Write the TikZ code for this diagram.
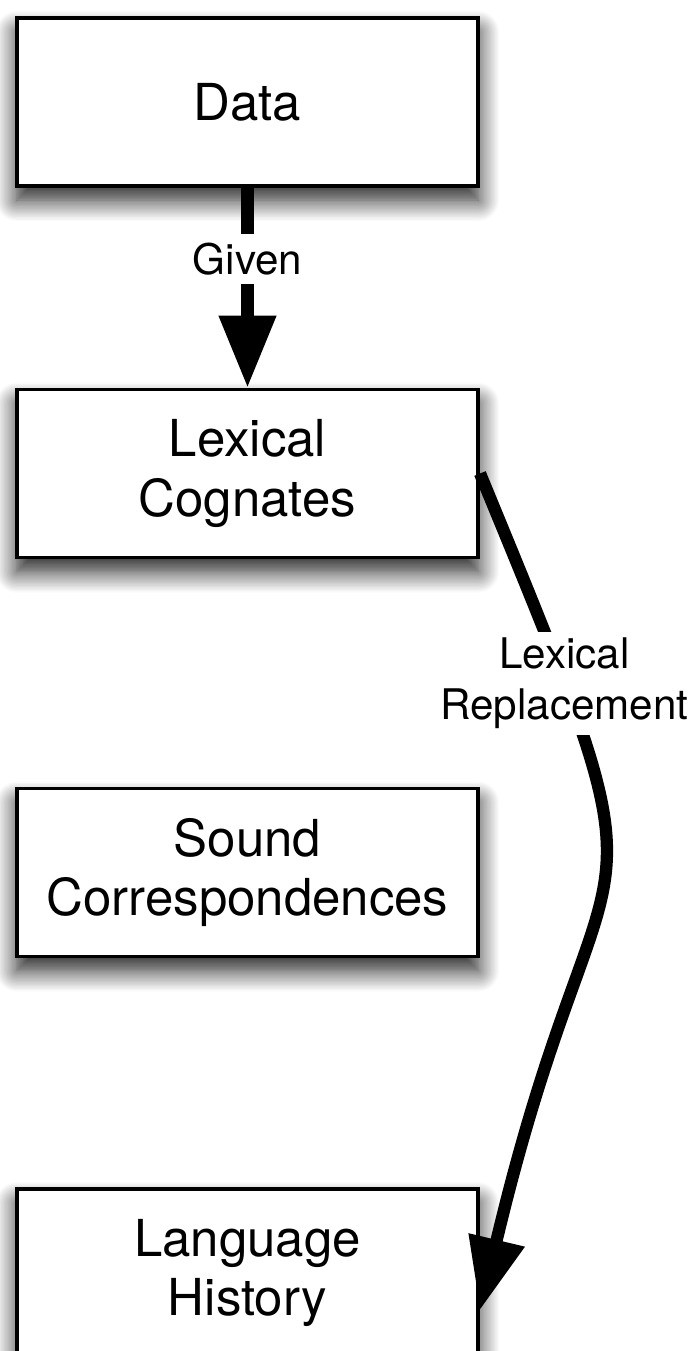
\documentclass[tikz,border=0pt]{standalone}
\usepackage{fontspec}
\setmainfont{TeX Gyre Heros}
\usetikzlibrary{arrows.meta,shadows.blur}

\tikzset{
	box/.style={draw, line width=2pt, fill=white, minimum width=9.23cm, minimum height=3.36cm,
		align=center, font=\fontsize{29}{34}\selectfont,
		blur shadow={shadow xshift=0pt, shadow yshift=-8pt, shadow blur radius=12pt,
			shadow blur steps=16, shadow opacity=90}},
	flow/.style={line width=7pt, -{Triangle[width=31pt,length=41pt]}},
	lbl/.style={fill=white, align=center, font=\fontsize{24}{29}\selectfont}
}

\begin{document}
\begin{tikzpicture}
		\useasboundingbox (0,0) rectangle (13.9,-27.02);
		% stages, top to bottom
		\node (data)  [box] at (4.95,-2.04)  {Data};
		\node (lex)   [box] at (4.95,-9.47)  {Lexical\\Cognates};
		\node (sound) [box] at (4.95,-17.45) {Sound\\Correspondences};
		\node (hist)  [box] at (4.95,-25.46) {Language\\History};
		% links
		\draw [flow] (data) -- (lex) node [lbl, pos=0.355, inner xsep=14pt, inner ysep=5pt] {Given};
		\draw [flow] (lex.east) .. controls (13.7,-19.4) and (12.1,-15.7) .. ([yshift=-0.74cm]hist.east)
			node [lbl, pos=0.18] {Lexical\\Replacement};
	\end{tikzpicture}
\end{document}
